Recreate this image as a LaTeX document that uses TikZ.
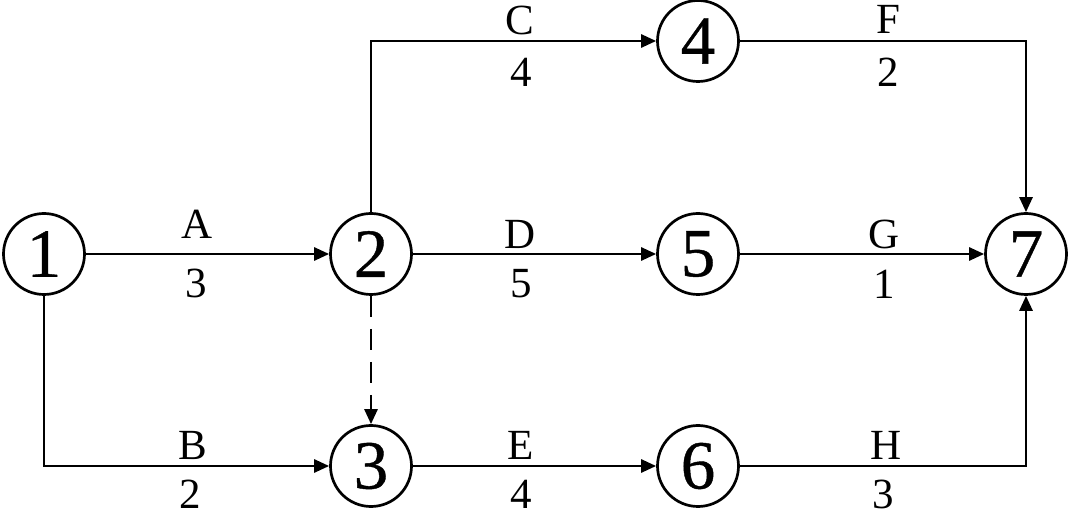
\documentclass[tikz,border=0pt]{standalone}
\usepackage{fontspec}
\setmainfont{Liberation Serif}
\newfontface\evfont{Liberation Serif}[FakeBold=0.6]
\usetikzlibrary{arrows.meta,positioning}

\begin{document}
\begin{tikzpicture}[x=0.5pt, y=-0.5pt, event/.style = {circle, draw=black, line width=1.35pt, minimum size=40.5pt, inner sep=0pt, font=\evfont\fontsize{34.5}{34.5}\selectfont}, act/.style = {inner sep=0pt, font=\fontsize{21.5}{21.5}\selectfont}, arr/.style = {line width=1.35pt, -{Triangle[length=7.5pt,width=6.5pt]}}]
\useasboundingbox (0,0) rectangle (1070,512);
% events
\node [event] (n1) at (44,254) {1};
\node [event] (n2) at (371,254) {2};
\node [event] (n3) at (371,466) {3};
\node [event] (n4) at (698,41) {4};
\node [event] (n5) at (698,254) {5};
\node [event] (n6) at (698,466) {6};
\node [event] (n7) at (1026,254) {7};
% activities
\draw [arr] (n1) -- (n2);
\draw [arr] (n1) |- (n3);
\draw [arr] (n2) |- (n4);
\draw [arr] (n2) -- (n5);
\draw [arr, dash pattern=on 10.5pt off 6pt] (n2) -- (n3);
\draw [arr] (n3) -- (n6);
\draw [arr] (n4) -| (n7);
\draw [arr] (n5) -- (n7);
\draw [arr] (n6) -| (n7);
% names and durations
\node [act] (lA) at (197,224) {A};
\node [act] (dA) at (196,283) {3};
\node [act] (lB) at (193,445) {B};
\node [act] (dB) at (190,494) {2};
\node [act] (lC) at (520,20) {C};
\node [act] (dC) at (521,72) {4};
\node [act] (lD) at (520,234) {D};
\node [act] (dD) at (521,284) {5};
\node [act] (lE) at (521,445) {E};
\node [act] (dE) at (521,494) {4};
\node [act] (lF) at (888,19) {F};
\node [act] (dF) at (888,72) {2};
\node [act] (lG) at (884,234) {G};
\node [act] (dG) at (884,284) {1};
\node [act] (lH) at (886,445) {H};
\node [act] (dH) at (883,494) {3};
\end{tikzpicture}
\end{document}
